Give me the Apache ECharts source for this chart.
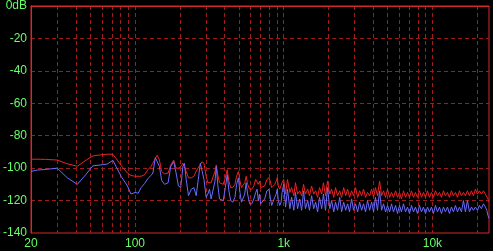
<!DOCTYPE html>
<html>
<head>
<meta charset="utf-8">
<title>Spectrum</title>
<script src="https://cdn.jsdelivr.net/npm/echarts@6/dist/echarts.min.js"></script>
<style>
html, body { margin: 0; padding: 0; background: #000; }
#chart { width: 493px; height: 251px; }
</style>
</head>
<body>
<div id="chart"></div>
<script>
// frequency bins (Hz)
const freqs = [
	20, 22, 25, 30, 35, 41, 47, 52, 59, 65, 71, 76, 81, 89, 94, 100,
	105, 110, 116, 122, 128, 132, 137, 141, 146, 151, 158, 167, 174, 182, 189, 196, 203, 210, 215, 221,
	229, 239, 249, 258, 265, 275, 282, 291, 301, 309, 317,
	325, 335, 345, 352, 360, 370, 380, 392, 405, 417, 428, 440, 455, 470, 482, 496, 508, 520, 535, 547,
	559, 572, 590, 610, 630, 648, 662, 675, 688, 700, 720, 745, 770, 795, 812, 830, 850, 870, 890, 905,
	920, 940, 960, 975,
	1000, 1030, 1060, 1100, 1130, 1170, 1200, 1240, 1280, 1320,
	1360, 1400, 1450, 1490, 1540, 1590, 1640, 1690, 1740, 1800,
	1850, 1910, 1970, 2040, 2100, 2170, 2230, 2300, 2380, 2450,
	2530, 2610, 2690, 2770, 2860, 2950, 3040, 3140, 3240, 3340,
	3440, 3550, 3660, 3780, 3900, 4020, 4140, 4270, 4410, 4550,
	4690, 4840, 4990, 5150, 5310, 5470, 5650, 5820, 6010, 6190,
	6390, 6590, 6800, 7010, 7230, 7460, 7690, 7930, 8180, 8440,
	8700, 8980, 9260, 9550, 9850, 10160, 10480, 10810, 11150, 11500,
	11860, 12230, 12620, 13010, 13420, 13840, 14280, 14730, 15190, 15670,
	16160, 16660, 17190, 17730, 18280, 18860, 19450, 20060, 20690, 21340,
	22010, 22700, 23200, 23600, 24000
];

// red channel level (dB)
const redDb = [
	-94.5, -94.5, -94.6, -95, -97.3, -98.8, -95, -92.5, -91.8, -91.4, -91.4, -95, -98.6, -103, -104.5, -105,
	-105, -105, -104, -101, -99, -97, -94, -92, -95, -102, -103.6, -103, -98, -95, -100, -100, -99, -97, -96, -102,
	-106, -106, -105, -102, -100, -98, -96, -97, -105, -109, -109,
	-109, -108, -102, -98, -104, -109, -110, -110, -106, -101, -108, -112, -112, -110, -105, -102, -108, -112, -112, -109,
	-105, -110, -113, -113, -111, -107, -106, -110, -108, -112, -113, -111, -107, -106, -108, -112, -113, -110, -108, -106,
	-111, -113, -112, -109,
	-107, -116, -107, -115, -112, -117, -109, -116, -114, -117,
	-110, -116, -113, -117, -111, -116, -114, -118, -112, -116,
	-109, -117, -108, -116, -113, -118, -112, -117, -114, -118,
	-112, -117, -113, -118, -114, -117, -112, -118, -114, -117,
	-113, -118, -115, -117, -113, -118, -112, -117, -108, -117,
	-114, -118, -113, -118, -115, -118, -114, -118, -115, -119,
	-114, -118, -115, -118, -114, -118, -115, -118, -114, -118,
	-115, -118, -114, -118, -115, -118, -114, -117, -115, -118,
	-114, -117, -115, -118, -114, -117, -115, -118, -114, -117,
	-115, -117, -114, -117, -114, -117, -113, -116, -114, -116,
	-114, -116, -117, -119, -121
];

// blue channel level (dB)
const blueDb = [
	-102, -101.2, -100.8, -100, -105.9, -110, -103.7, -98.6, -98, -97.5, -95.2, -100.4, -105.3, -111, -116, -115,
	-115.5, -112, -109.5, -106.5, -104.5, -103, -93.5, -92.5, -99, -107.5, -110, -109, -99, -96, -103, -111, -112, -99, -97, -107,
	-117, -113, -112, -117, -118, -97, -96, -107, -118, -116, -113,
	-119, -120, -108, -99, -110, -119, -120, -120, -112, -104, -114, -120, -121, -118, -110, -106, -115, -121, -121, -116,
	-109, -116, -122, -122, -119, -115, -113, -120, -116, -122, -122, -119, -114, -113, -118, -123, -124, -118, -116, -113,
	-120, -123, -121, -115,
	-110, -124, -113, -125, -118, -126, -115, -125, -119, -126,
	-114, -125, -120, -126, -117, -125, -121, -127, -118, -125,
	-116, -126, -112, -125, -120, -127, -121, -126, -118, -127,
	-121, -126, -122, -127, -119, -126, -122, -127, -121, -126,
	-122, -127, -120, -126, -121, -127, -118, -126, -114, -126,
	-122, -127, -123, -127, -122, -127, -123, -128, -123, -127,
	-122, -127, -124, -128, -123, -127, -124, -128, -123, -127,
	-124, -128, -124, -127, -124, -128, -123, -127, -124, -128,
	-124, -127, -124, -128, -124, -127, -123, -127, -124, -127,
	-120, -127, -120, -127, -124, -126, -124, -126, -123, -125,
	-122, -124, -126, -129, -131
];

// grid lines and tick labels
const xGridValues = [30, 40, 50, 60, 70, 80, 90, 100, 200, 300, 400, 500, 600, 700, 800, 900,
	1000, 2000, 3000, 4000, 5000, 6000, 7000, 8000, 9000, 10000, 20000];
const xLabelValues = [20, 100, 1000, 10000];
const xLabelText = ['20', '100', '1k', '10k'];
const yGridValues = [-20, -40, -60, -80, -100, -120];
const yLabelValues = [0, -20, -40, -60, -80, -100, -120, -140];
const yLabelText = ['0dB', '-20', '-40', '-60', '-80', '-100', '-120', '-140'];

const borderColor = '#d42828';
const gridColor = '#a01c1c';
const labelColor = '#66ff66';
const labelFont = "'Liberation Sans Narrow', 'Liberation Sans', sans-serif";

const chart = echarts.init(document.getElementById('chart'));

const option = {
	backgroundColor: '#000',
	animation: false,
	grid: {
		left: 29,
		right: 4,
		top: 3,
		bottom: 18,
		show: true,
		borderColor: borderColor,
		borderWidth: 1,
		backgroundColor: '#000'
	},
	xAxis: {
		type: 'log',
		logBase: 10,
		min: 20,
		max: 24000,
		axisLine: { lineStyle: { color: borderColor } },
		axisTick: { show: false, customValues: xGridValues },
		axisLabel: {
			customValues: xLabelValues,
			color: labelColor,
			fontFamily: labelFont,
			fontSize: 12,
			margin: 5,
			formatter: v => xLabelText[xLabelValues.indexOf(v)]
		},
		splitLine: {
			show: true,
			lineStyle: { color: gridColor, type: [4, 3], width: 1 }
		}
	},
	yAxis: {
		type: 'value',
		min: -140,
		max: 0,
		interval: 20,
		axisLine: { show: true, lineStyle: { color: borderColor } },
		axisTick: { show: false, customValues: yGridValues },
		axisLabel: {
			customValues: yLabelValues,
			color: labelColor,
			fontFamily: labelFont,
			fontSize: 12,
			margin: 4,
			formatter: v => yLabelText[yLabelValues.indexOf(v)]
		},
		splitLine: {
			show: true,
			lineStyle: { color: gridColor, type: [4, 3], width: 1 }
		}
	},
	series: [
		{
			name: 'L',
			type: 'line',
			showSymbol: false,
			data: freqs.map((f, i) => [f, redDb[i]]),
			lineStyle: { color: '#ee2222', width: 1 },
			itemStyle: { color: '#ee2222' }
		},
		{
			name: 'R',
			type: 'line',
			showSymbol: false,
			data: freqs.map((f, i) => [f, blueDb[i]]),
			lineStyle: { color: '#6b6bff', width: 1 },
			itemStyle: { color: '#6b6bff' }
		}
	]
};

chart.setOption(option);
</script>
</body>
</html>
